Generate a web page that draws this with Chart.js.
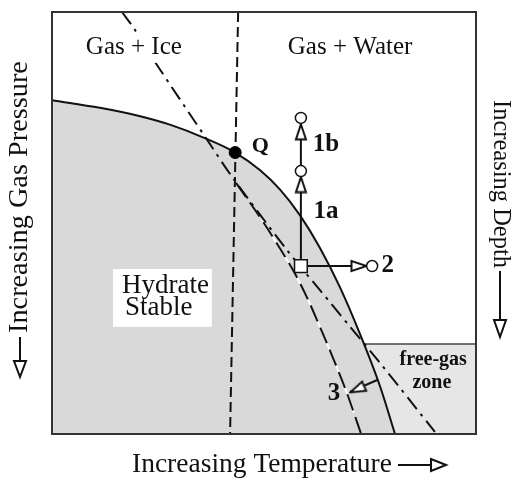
<!DOCTYPE html>
<html>
<head>
<meta charset="utf-8">
<script src="https://cdn.jsdelivr.net/npm/chart.js@4.4.1/dist/chart.umd.min.js"></script>
<style>
    html, body { margin: 0; padding: 0; background: #fff; }
</style>
</head>
<body>
<canvas id="phase-diagram" width="516" height="479"></canvas>
<script>
// temperature (T) and gas pressure (P), arbitrary 0-100 units, P grows downward
const boundaryT = [0, 11.3, 20.8, 27.8, 35.6, 43.2, 49.1, 53.8, 58.5, 63.2, 67.9, 72.6, 77.4, 80.9];
const boundaryP = [20.9, 22.7, 24.7, 26.7, 29.7, 33.3, 37.5, 42.1, 48.2, 55.9, 65.2, 76.2, 88.8, 100];

const shiftedT = [43.4, 49.5, 54.0, 57.1, 60.4, 62.5, 66.0, 69.3, 71.2, 72.9];
const shiftedP = [40.5, 49.3, 56.4, 61.6, 68.2, 73.0, 81.3, 89.6, 95.0, 100];

const geothermT = [16.5, 19.6, 24.8, 36.6, 42.5, 55.4, 63.2, 70.3, 77.4, 90.3];
const geothermP = [0, 4.3, 12.6, 30.3, 39.1, 56.4, 65.9, 74.6, 83.2, 99.5];

const iceT = [43.9, 42.0];
const iceP = [0, 100];

const freeGasT = [73.6, 100];
const freeGasP = [78.7, 78.7];

const quadT = [43.2];
const quadP = [33.3];

const startT = [58.7];
const startP = [60.2];

const endT = [58.7, 58.7, 75.5];
const endP = [37.7, 25.1, 60.2];

const path1T = [58.7, 58.7];
const path1P = [60.2, 25.1];
const path2T = [58.7, 75.5];
const path2P = [60.2, 60.2];
const path3T = [76.7, 70.3];
const path3P = [87.2, 90.0];

const headT = [58.7, 58.7, 72.4, 72.0];
const headP = [40.9, 28.4, 60.2, 89.4];
const headAngle = [0, 0, 90, 246];

const labelText = ['Gas + Ice', 'Gas + Water', 'Q', '1b', '1a', '2', '3', 'free-gas', 'zone'];
const labelT = [19.3, 70.3, 49.1, 64.6, 64.6, 79.2, 66.5, 89.9, 89.6];
const labelP = [8.5, 8.5, 31.8, 31.3, 47.4, 60.2, 90.3, 82.5, 87.9];

const stableText = ['Hydrate', 'Stable'];
const stableT = [16.5, 17.2];
const stableP = [64.9, 70.1];

function pts(T, P) {
    return T.map((t, i) => ({x: t, y: P[i]}));
}

const serif = '"Liberation Serif", "Times New Roman", serif';

// narrow open arrow head used as a point style
function headImage() {
    const c = document.createElement('canvas');
    c.width = 14;
    c.height = 18;
    const g = c.getContext('2d');
    g.lineWidth = 2;
    g.strokeStyle = '#111';
    g.fillStyle = '#fff';
    g.beginPath();
    g.moveTo(7, 1.5);
    g.lineTo(12, 16.5);
    g.lineTo(2, 16.5);
    g.closePath();
    g.fill();
    g.stroke();
    return c;
}

function openArrow(ctx, x1, y1, x2, y2, len, half) {
    const ang = Math.atan2(y2 - y1, x2 - x1);
    const bx = x2 - Math.cos(ang) * len, by = y2 - Math.sin(ang) * len;
    ctx.beginPath();
    ctx.moveTo(x1, y1);
    ctx.lineTo(bx, by);
    ctx.stroke();
    ctx.beginPath();
    ctx.moveTo(x2, y2);
    ctx.lineTo(bx + Math.sin(ang) * half, by - Math.cos(ang) * half);
    ctx.lineTo(bx - Math.sin(ang) * half, by + Math.cos(ang) * half);
    ctx.closePath();
    ctx.fillStyle = '#fff';
    ctx.fill();
    ctx.stroke();
}

const overlay = {
    id: 'overlay',
    afterDatasetsDraw(chart) {
        const {ctx, chartArea: a, scales: {x, y}} = chart;
        ctx.save();

        // frame
        ctx.strokeStyle = '#333';
        ctx.lineWidth = 2;
        ctx.strokeRect(a.left, a.top, a.right - a.left, a.bottom - a.top);

        // "Hydrate Stable" box
        const bx1 = x.getPixelForValue(14.4), bx2 = x.getPixelForValue(37.7);
        const by1 = y.getPixelForValue(60.9), by2 = y.getPixelForValue(74.6);
        ctx.fillStyle = '#fff';
        ctx.fillRect(bx1, by1, bx2 - bx1, by2 - by1);
        ctx.fillStyle = '#111';
        ctx.font = '27px ' + serif;
        ctx.textAlign = 'left';
        ctx.textBaseline = 'middle';
        stableText.forEach((s, i) => {
            ctx.fillText(s, x.getPixelForValue(stableT[i]), y.getPixelForValue(stableP[i]));
        });

        // region and point labels
        ctx.textAlign = 'center';
        labelText.forEach((s, i) => {
            const px = x.getPixelForValue(labelT[i]), py = y.getPixelForValue(labelP[i]);
            if (i < 2) {
                ctx.font = '25px ' + serif;
                const w = ctx.measureText(s).width;
                ctx.fillStyle = '#fff';
                ctx.fillRect(px - w / 2 - 3, py - 15, w + 6, 30);
            } else if (i < 7) {
                ctx.font = 'bold ' + (i === 2 ? 22 : 25) + 'px ' + serif;
            } else {
                ctx.font = 'bold 20px ' + serif;
            }
            ctx.fillStyle = '#111';
            ctx.fillText(s, px, py);
        });

        // axis titles with open arrows
        ctx.strokeStyle = '#111';
        ctx.lineWidth = 2;
        ctx.fillStyle = '#111';
        ctx.textAlign = 'left';
        ctx.font = '27.5px ' + serif;
        ctx.fillText('Increasing Temperature', 132, 465);
        openArrow(ctx, 398, 465, 446, 465, 15, 6);

        ctx.save();
        ctx.translate(20, 333);
        ctx.rotate(-Math.PI / 2);
        ctx.fillStyle = '#111';
        ctx.font = '28.3px ' + serif;
        ctx.fillText('Increasing Gas Pressure', 0, 0);
        ctx.restore();
        openArrow(ctx, 20, 337, 20, 377, 16, 6);

        ctx.save();
        ctx.translate(500, 100);
        ctx.rotate(Math.PI / 2);
        ctx.fillStyle = '#111';
        ctx.font = '24.5px ' + serif;
        ctx.fillText('Increasing Depth', 0, 0);
        ctx.restore();
        openArrow(ctx, 500, 271, 500, 337, 17, 6);

        ctx.restore();
    }
};

const lineBase = {pointRadius: 0, borderWidth: 2, borderColor: '#111', fill: false, tension: 0};

const config = {
    type: 'line',
    data: {
        datasets: [
            {...lineBase, data: pts(freeGasT, freeGasP), borderWidth: 1.5, borderColor: '#444',
                fill: {value: 100}, backgroundColor: '#e6e6e6', order: 10},
            {...lineBase, data: pts(boundaryT, boundaryP), cubicInterpolationMode: 'monotone',
                fill: {value: 100}, backgroundColor: '#d9d9d9', order: 9},
            {...lineBase, data: pts(shiftedT, shiftedP).slice(1, 9), borderColor: '#fff',
                cubicInterpolationMode: 'monotone', order: 8},
            {...lineBase, data: pts(shiftedT, shiftedP), borderDash: [17, 7],
                cubicInterpolationMode: 'monotone', order: 7},
            {...lineBase, data: pts(geothermT, geothermP), borderDash: [15, 6, 3, 6],
                tension: 0.3, order: 6},
            {...lineBase, data: pts(iceT, iceP), borderDash: [10, 5], order: 5},
            {...lineBase, data: pts(path1T, path1P), order: 4},
            {...lineBase, data: pts(path2T, path2P), order: 4},
            {...lineBase, data: pts(path3T, path3P), order: 4},
            {data: pts(headT, headP), showLine: false, pointStyle: headImage(), pointRotation: headAngle,
                pointRadius: 8, order: 3},
            {data: pts(endT, endP), showLine: false, pointStyle: 'circle', pointRadius: 5.5,
                pointBackgroundColor: '#fff', pointBorderColor: '#111', pointBorderWidth: 1.5, order: 2},
            {data: pts(startT, startP), showLine: false, pointStyle: 'rect', pointRadius: 9,
                pointBackgroundColor: '#fff', pointBorderColor: '#111', pointBorderWidth: 1.5, order: 2},
            {data: pts(quadT, quadP), showLine: false, pointStyle: 'circle', pointRadius: 6,
                pointBackgroundColor: '#000', pointBorderColor: '#000', pointBorderWidth: 1, order: 1}
        ]
    },
    options: {
        responsive: false,
        animation: false,
        events: [],
        layout: {padding: {left: 52, top: 12, right: 40, bottom: 45}},
        plugins: {legend: {display: false}, tooltip: {enabled: false}},
        scales: {
            x: {type: 'linear', min: 0, max: 100, display: false},
            y: {type: 'linear', min: 0, max: 100, reverse: true, display: false}
        }
    },
    plugins: [overlay]
};

var ctx = document.getElementById('phase-diagram').getContext('2d');
window.phaseChart = new Chart(ctx, config);
</script>
</body>
</html>
